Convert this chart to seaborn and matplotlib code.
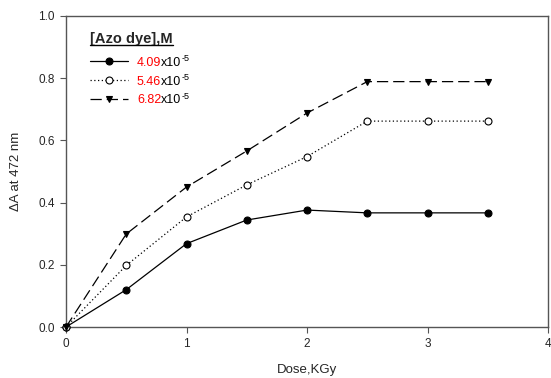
import matplotlib
matplotlib.use("Agg")
import matplotlib.pyplot as plt
import seaborn as sns
import pandas as pd
from matplotlib.lines import Line2D

# dados
dose = [0, 0.5, 1.0, 1.5, 2.0, 2.5, 3.0, 3.5]
abs_409 = [0.0, 0.12, 0.268, 0.344, 0.376, 0.367, 0.367, 0.367]
abs_546 = [0.0, 0.198, 0.354, 0.457, 0.548, 0.662, 0.662, 0.662]
abs_682 = [0.0, 0.299, 0.450, 0.566, 0.688, 0.789, 0.789, 0.789]
conc = ["4.09", "5.46", "6.82"]

df = pd.DataFrame({
    "Dose": dose * 3,
    "A": abs_409 + abs_546 + abs_682,
    "Conc": [conc[0]] * 8 + [conc[1]] * 8 + [conc[2]] * 8,
})

sns.set_style("ticks")
plt.rcParams["font.family"] = ["Liberation Sans", "DejaVu Sans"]

fig = plt.figure(figsize=(5.51, 3.78), dpi=100)
ax = fig.add_axes([66 / 551, 1 - 327 / 378, 482 / 551, 311 / 378])

estilos = {
    conc[0]: dict(ls="-", marker="o", mfc="black"),
    conc[1]: dict(ls=(0, (1, 2)), marker="o", mfc="white"),
    conc[2]: dict(ls=(0, (9, 4)), marker="v", mfc="black"),
}

handles = []
for c in conc:
    sub = df[df["Conc"] == c]
    st = estilos[c]
    sns.lineplot(data=sub, x="Dose", y="A", ax=ax, color="black", lw=0.9,
                 linestyle=st["ls"], marker=st["marker"], markersize=5,
                 markerfacecolor=st["mfc"], markeredgecolor="black",
                 markeredgewidth=0.8, clip_on=False, zorder=3)
    handles.append(Line2D([], [], color="black", lw=0.9, linestyle=st["ls"],
                          marker=st["marker"], markersize=5,
                          markerfacecolor=st["mfc"], markeredgecolor="black",
                          markeredgewidth=0.8))

ax.set_xlim(0, 4)
ax.set_ylim(0, 1.0)
ax.set_xticks([0, 1, 2, 3, 4])
ax.set_yticks([0, 0.2, 0.4, 0.6, 0.8, 1.0])
ax.set_yticklabels(["0.0", "0.2", "0.4", "0.6", "0.8", "1.0"])
ax.tick_params(labelsize=8.5, length=4, width=0.8, color="#555555", pad=4)
for s in ax.spines.values():
    s.set_linewidth(1.0)
    s.set_color("#555555")

ax.set_xlabel("Dose,KGy", fontsize=9.5, labelpad=10)
ax.set_ylabel("ΔA at 472 nm", fontsize=9.5, labelpad=12)

leg = ax.legend(handles, conc, loc="upper left", bbox_to_anchor=(0.05, 0.95),
                frameon=False, fontsize=9, title="[Azo dye],M",
                title_fontproperties={"weight": "bold", "size": 10.5},
                handlelength=3.0, handletextpad=0.75, labelspacing=0.55,
                borderpad=0, borderaxespad=0)
leg._legend_box.align = "left"
leg._legend_box.sep = 8
for t in leg.get_texts():
    t.set_color("red")
    x10 = ax.annotate("x10", xy=(1, 0), xycoords=t, fontsize=9,
                      va="bottom", ha="left", color="black")
    ax.annotate("-5", xy=(1, 1), xycoords=x10, fontsize=6.5,
                va="top", ha="left", color="black",
                xytext=(0, 2), textcoords="offset points")

# sublinhado do título da legenda
fig.canvas.draw()
bb = leg.get_title().get_window_extent()
fig.add_artist(Line2D([bb.x0 / fig.bbox.width, bb.x1 / fig.bbox.width],
                      [(bb.y0 + 1) / fig.bbox.height] * 2,
                      color="black", lw=1.0, transform=fig.transFigure))

fig.savefig("out.png", dpi=100)
